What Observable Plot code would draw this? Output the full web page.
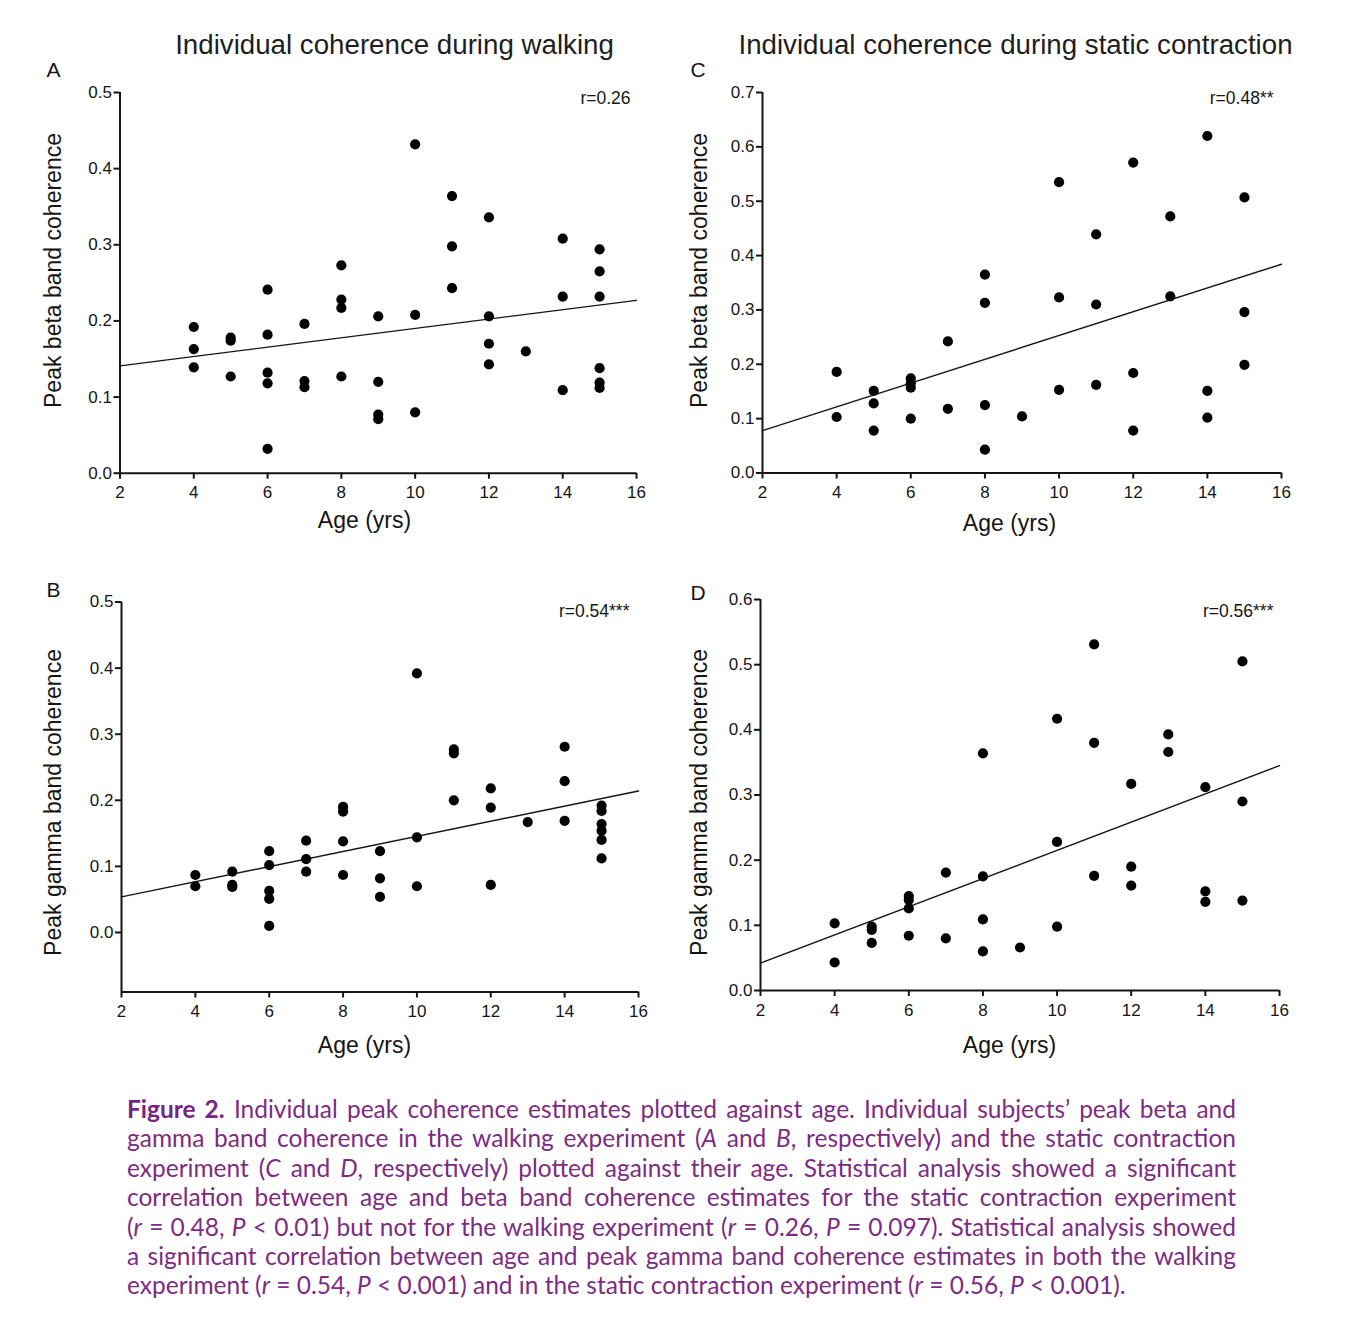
<!DOCTYPE html>
<html><head><meta charset="utf-8">
<script src="https://cdn.jsdelivr.net/npm/d3@7"></script>
<script src="https://cdn.jsdelivr.net/npm/@observablehq/plot@0.6"></script>
<style>
body{margin:0;background:#fff;}
#page{position:relative;width:1347px;height:1325px;overflow:hidden;}
.panel{position:absolute;}
#caption{position:absolute;left:127px;top:1094px;font-family:Lato,"Open Sans",sans-serif;font-size:24.5px;line-height:29.4px;color:#7d2b84;transform-origin:0 0;}
#caption .ln{white-space:nowrap;text-align:justify;text-align-last:justify;height:29.4px;}
#caption .ln.last{text-align-last:left;}
#caption b{font-weight:700;color:#762580;}
</style></head><body><div id="page"></div>
<script>
// ---------- data ----------
const xTicks = [2, 4, 6, 8, 10, 12, 14, 16];
const yTicksWalk = [0, 0.1, 0.2, 0.3, 0.4, 0.5];
const yTicksBetaStatic = [0, 0.1, 0.2, 0.3, 0.4, 0.5, 0.6, 0.7];
const yTicksGammaStatic = [0, 0.1, 0.2, 0.3, 0.4, 0.5, 0.6];

const agesBetaWalk = [4,4,4,5,5,5,6,6,6,6,6,7,7,7,8,8,8,8,9,9,9,9,10,10,10,11,11,11,12,12,12,12,13,14,14,14,15,15,15,15,15,15];
const betaWalk = [0.192,0.163,0.139,0.178,0.174,0.127,0.241,0.182,0.132,0.118,0.032,0.196,0.121,0.113,0.273,0.228,0.217,0.127,0.206,0.120,0.077,0.071,0.432,0.208,0.080,0.364,0.298,0.243,0.336,0.206,0.170,0.143,0.160,0.308,0.232,0.109,0.294,0.265,0.232,0.138,0.119,0.112];

const agesGammaWalk = [4,4,5,5,5,6,6,6,6,6,7,7,7,8,8,8,8,9,9,9,10,10,10,11,11,11,12,12,12,13,14,14,14,15,15,15,15,15,15];
const gammaWalk = [0.087,0.070,0.092,0.072,0.069,0.123,0.102,0.063,0.051,0.010,0.139,0.111,0.092,0.190,0.183,0.138,0.087,0.123,0.082,0.054,0.392,0.144,0.070,0.277,0.271,0.200,0.218,0.189,0.072,0.167,0.281,0.229,0.169,0.192,0.184,0.164,0.154,0.140,0.112];

const agesBetaStatic = [4,4,5,5,5,6,6,6,6,7,7,8,8,8,8,9,10,10,10,11,11,11,12,12,12,13,13,14,14,14,15,15,15];
const betaStatic = [0.186,0.103,0.151,0.128,0.078,0.174,0.165,0.157,0.100,0.242,0.118,0.365,0.313,0.125,0.043,0.104,0.535,0.323,0.153,0.439,0.310,0.162,0.571,0.184,0.078,0.472,0.325,0.620,0.151,0.102,0.507,0.296,0.199];

const agesGammaStatic = [4,4,5,5,5,6,6,6,6,7,7,8,8,8,8,9,10,10,10,11,11,11,12,12,12,13,13,14,14,14,15,15,15];
const gammaStatic = [0.103,0.043,0.098,0.093,0.073,0.145,0.139,0.126,0.084,0.181,0.080,0.364,0.175,0.109,0.060,0.066,0.417,0.228,0.098,0.531,0.380,0.176,0.317,0.190,0.161,0.393,0.366,0.312,0.152,0.136,0.505,0.290,0.138];

const fitAges = [2, 16];
const fitBetaWalk = [0.141, 0.227];
const fitGammaWalk = [0.054, 0.214];
const fitBetaStatic = [0.078, 0.384];
const fitGammaStatic = [0.042, 0.345];

const panelLetters = ["A", "B", "C", "D"];
const titles = ["Individual coherence during walking", "Individual coherence during static contraction"];
const rLabels = ["r=0.26", "r=0.54***", "r=0.48**", "r=0.56***"];
const yLabels = ["Peak beta band coherence", "Peak gamma band coherence"];
const xLabel = "Age (yrs)";

// ---------- drawing ----------
const FONT = '"Liberation Sans", Arial, sans-serif';
const INK = "#151515";
const page = document.getElementById("page");

function panel(cfg) {
  const {left, top, width, height, fr, ages, vals, yDomain, yTicks, fitY, texts} = cfg;
  const mL = fr.l - left, mR = left + width - fr.r, mT = fr.t - top, mB = top + height - fr.b;
  const at = (px, py, o) => Plot.text([o.text], {
    text: d => d, frameAnchor: "top-left", dx: px - fr.l, dy: py - fr.t,
    fill: INK, fontFamily: FONT, ...o.opts
  });
  const idx = d3.range(vals.length);
  const fit = fitAges.map((a, i) => ({a, v: fitY[i]}));
  const svg = Plot.plot({
    width, height, marginLeft: mL, marginRight: mR, marginTop: mT, marginBottom: mB,
    style: {fontFamily: FONT, fontSize: "17px", color: INK, background: "transparent", overflow: "visible"},
    x: {domain: [2, 16]},
    y: {domain: yDomain},
    marks: [
      Plot.axisX({ticks: xTicks, tickSize: 6, tickPadding: 7, strokeWidth: 2, label: null, fontSize: 17}),
      Plot.axisY({ticks: yTicks, tickSize: 6, tickPadding: 2, strokeWidth: 2, label: null, tickFormat: d3.format(".1f"), fontSize: 17}),
      Plot.ruleX([2], {stroke: INK, strokeWidth: 2}),
      Plot.ruleY([yDomain[0]], {stroke: INK, strokeWidth: 2}),
      Plot.line(fit, {x: "a", y: "v", stroke: INK, strokeWidth: 1.4}),
      Plot.dot(idx, {x: i => ages[i], y: i => vals[i], r: 5.1, fill: "#000", stroke: null}),
      ...texts.map(t => at(t.x, t.y, t))
    ]
  });
  svg.classList.add("panel");
  svg.style.left = left + "px";
  svg.style.top = top + "px";
  page.appendChild(svg);
}

const T = (text, x, y, opts) => ({text, x, y, opts});
const letterO = {fontSize: 21, textAnchor: "start", lineAnchor: "bottom"};
const titleO = {fontSize: 27.7, textAnchor: "middle", lineAnchor: "bottom", fill: "#1e1e1e"};
const yLabO = {fontSize: 23, textAnchor: "middle", lineAnchor: "middle", rotate: -90};
const xLabO = {fontSize: 23, textAnchor: "middle", lineAnchor: "bottom"};
const rO = {fontSize: 17.5, textAnchor: "end", lineAnchor: "bottom"};

panel({
  left: 0, top: 0, width: 673, height: 548, fr: {l: 119.5, r: 636, t: 92, b: 472.7},
  ages: agesBetaWalk, vals: betaWalk, yDomain: [0, 0.5], yTicks: yTicksWalk, fitY: fitBetaWalk,
  texts: [T(panelLetters[0], 46, 76, letterO), T(titles[0], 394, 53, titleO), T(yLabels[0], 53, 270, yLabO),
          T(xLabel, 364, 527, xLabO), T(rLabels[0], 630, 103, rO)]
});
panel({
  left: 673, top: 0, width: 674, height: 548, fr: {l: 762, r: 1281, t: 92, b: 472.5},
  ages: agesBetaStatic, vals: betaStatic, yDomain: [0, 0.7], yTicks: yTicksBetaStatic, fitY: fitBetaStatic,
  texts: [T(panelLetters[2], 690, 76, letterO), T(titles[1], 1015, 53, titleO), T(yLabels[0], 699, 270, yLabO),
          T(xLabel, 1009, 530, xLabO), T(rLabels[2], 1273, 103, rO)]
});
panel({
  left: 0, top: 548, width: 673, height: 522, fr: {l: 121, r: 638, t: 601.5, b: 991.5},
  ages: agesGammaWalk, vals: gammaWalk, yDomain: [-0.09, 0.5], yTicks: yTicksWalk, fitY: fitGammaWalk,
  texts: [T(panelLetters[1], 46, 596, letterO), T(yLabels[1], 53, 802, yLabO),
          T(xLabel, 364, 1052, xLabO), T(rLabels[1], 629, 616, rO)]
});
panel({
  left: 673, top: 548, width: 674, height: 522, fr: {l: 760, r: 1279, t: 599, b: 990},
  ages: agesGammaStatic, vals: gammaStatic, yDomain: [0, 0.6], yTicks: yTicksGammaStatic, fitY: fitGammaStatic,
  texts: [T(panelLetters[3], 690, 599, letterO), T(yLabels[1], 699, 802, yLabO),
          T(xLabel, 1009, 1052, xLabO), T(rLabels[3], 1273, 616, rO)]
});

// ---------- caption ----------
const captionLines = [
  "<b>Figure 2.</b> Individual peak coherence estimates plotted against age. Individual subjects\u2019 peak beta and",
  "gamma band coherence in the walking experiment (<i>A</i> and <i>B</i>, respectively) and the static contraction",
  "experiment (<i>C</i> and <i>D</i>, respectively) plotted against their age. Statistical analysis showed a significant",
  "correlation between age and beta band coherence estimates for the static contraction experiment",
  "(<i>r</i> = 0.48, <i>P</i> &lt; 0.01) but not for the walking experiment (<i>r</i> = 0.26, <i>P</i> = 0.097). Statistical analysis showed",
  "a significant correlation between age and peak gamma band coherence estimates in both the walking",
  "experiment (<i>r</i> = 0.54, <i>P</i> &lt; 0.001) and in the static contraction experiment (<i>r</i> = 0.56, <i>P</i> &lt; 0.001)."
];
const cap = document.createElement("div");
cap.id = "caption";
page.appendChild(cap);
let maxW = 0;
captionLines.forEach((h) => {
  const s = document.createElement("span");
  s.style.whiteSpace = "nowrap";
  s.innerHTML = h;
  cap.appendChild(s);
  maxW = Math.max(maxW, s.getBoundingClientRect().width);
  cap.removeChild(s);
});
const targetW = 1109;
const sc = Math.min(1, (targetW - 4) / maxW);
cap.style.width = (targetW / sc) + "px";
cap.style.transform = `scaleX(${sc})`;
captionLines.forEach((h, i) => {
  const d = document.createElement("div");
  d.className = "ln" + (i === captionLines.length - 1 ? " last" : "");
  d.innerHTML = h;
  cap.appendChild(d);
});
</script>
</body></html>
